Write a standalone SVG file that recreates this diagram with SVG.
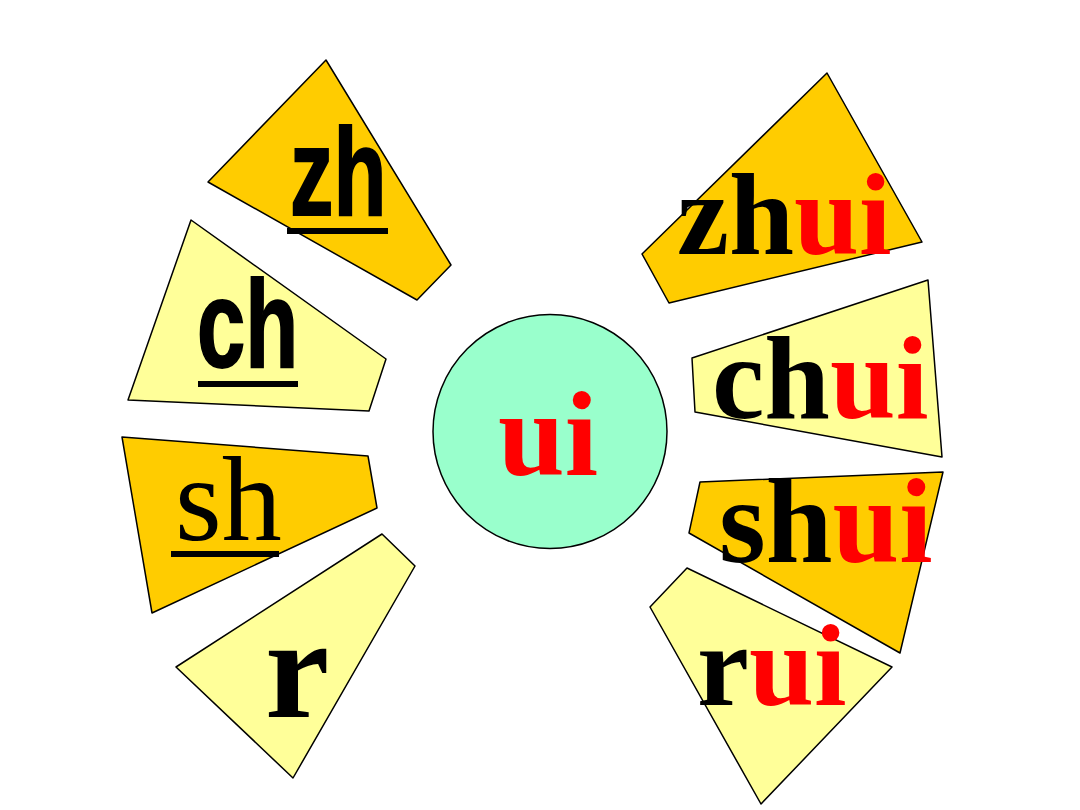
<svg xmlns="http://www.w3.org/2000/svg" width="1080" height="810" viewBox="0 0 1080 810">
<style>
.dk{fill:#FFCC00;stroke:#000;stroke-width:1.5;stroke-linejoin:round}
.lt{fill:#FFFF99;stroke:#000;stroke-width:1.5;stroke-linejoin:round}
.sans{font-family:"Liberation Sans",Arial,sans-serif;font-weight:bold;font-size:124px;fill:#000;stroke:#000;stroke-width:2}
.ser{font-family:"Liberation Serif","Times New Roman",serif;fill:#000}
.b{font-weight:bold}
.red{fill:#FF0000}
.ul{fill:#000}
</style>
<rect width="1080" height="810" fill="#fff"/>
<g id="zh">
<polygon class="dk" points="326,60 451,265 417,300 208,182"/>
<text class="sans" transform="translate(290,215) scale(0.7,1)">zh</text>
<rect class="ul" x="287" y="228" width="101" height="6"/>
</g>
<g id="ch">
<polygon class="lt" points="191,220 386,359 369,411 128,400"/>
<text class="sans" transform="translate(197,367) scale(0.7,1)">ch</text>
<rect class="ul" x="198" y="381" width="100" height="6"/>
</g>
<g id="sh">
<polygon class="dk" points="122,437 368,456 377,508 152,613"/>
<text class="ser" x="175" y="540" font-size="120">sh</text>
<rect class="ul" x="171" y="551" width="108" height="6"/>
</g>
<g id="r">
<polygon class="lt" points="382,534 415,566 293,778 176,667"/>
<text class="ser b" x="265" y="717" font-size="145">r</text>
</g>
<g id="ui">
<circle cx="550" cy="431.5" r="117" fill="#99FFCC" stroke="#000" stroke-width="1.5"/>
<text class="ser b red" x="548" y="475" font-size="120" text-anchor="middle">ui</text>
</g>
<g id="zhui">
<polygon class="dk" points="827,73 922,242 669,303 642,254"/>
<text class="ser b" x="677" y="254" font-size="117">zh<tspan class="red">ui</tspan></text>
</g>
<g id="chui">
<polygon class="lt" points="928,280 942,457 695,412 692,358"/>
<text class="ser b" x="712" y="418" font-size="118">ch<tspan class="red">ui</tspan></text>
</g>
<g id="shui">
<polygon class="dk" points="700,482 943,472 900,653 689,533"/>
<text class="ser b" x="719" y="562" font-size="120">sh<tspan class="red">ui</tspan></text>
</g>
<g id="rui">
<polygon class="lt" points="687,568 892,667 761,804 650,607"/>
<text class="ser b" x="697" y="705" font-size="117">r<tspan class="red">ui</tspan></text>
</g>
<g id="connectors"/>
</svg>
